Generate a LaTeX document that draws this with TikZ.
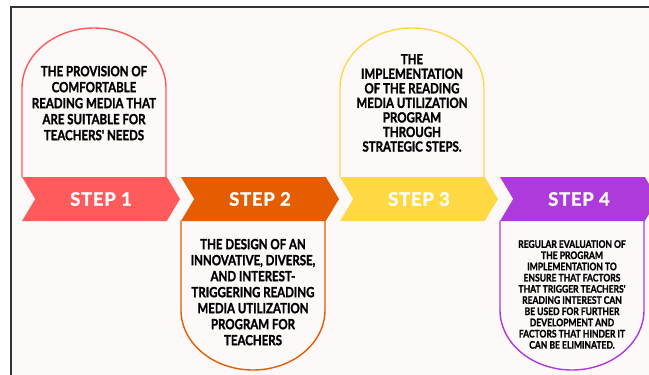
\documentclass[tikz,border=0pt]{standalone}
\usepackage{fontspec}
\usetikzlibrary{shapes.symbols}
\newfontfamily\bodyfont[BoldFeatures={FakeBold=1.6}]{Lato}
\newfontfamily\labelfont[BoldFeatures={FakeBold=1.2}, LetterSpace=4]{Lato}
\definecolor{pagebg}{HTML}{FDF9F8}
\definecolor{stepa}{HTML}{FF5A5C}
\definecolor{stepb}{HTML}{E65C00}
\definecolor{stepc}{HTML}{FFD944}
\definecolor{stepd}{HTML}{AE3ADB}
\newcommand{\narrow}[1]{\scalebox{0.82}[1]{\begin{tabular}{@{}c@{}}#1\end{tabular}}}

\tikzset{
  band/.style={signal, signal from=west, signal to=east, signal pointer angle=118,
    fill=#1, minimum width=158pt, minimum height=44pt, inner sep=0pt,
    font=\labelfont\bfseries\fontsize{18.5}{20}\selectfont, text=white},
  archbox/.style={draw=#1, line width=1.4pt, fill=pagebg},
  bodytext/.style={inner sep=0pt, text=black,
    font=\bodyfont\bfseries\fontsize{14}{16}\selectfont}
}

\begin{document}
\begin{tikzpicture}[x=1pt,y=-1pt]
  \useasboundingbox (0,0) rectangle (649,375);
  \fill[pagebg] (11,7) rectangle (649,375);
  \draw[line width=2pt, black!80] (11,375) -- (11,7) -- (649,7);

  % arches above and below the bands
  \draw[archbox=stepa] (22,177) -- (22,88) arc[start angle=180, end angle=0, x radius=72pt, y radius=60pt] -- (166,177);
  \draw[archbox=stepb] (181,221) -- (181,310) arc[start angle=180, end angle=360, x radius=72pt, y radius=60pt] -- (325,221);
  \draw[archbox=stepc] (340,177) -- (340,88) arc[start angle=180, end angle=0, x radius=72pt, y radius=60pt] -- (484,177);
  \draw[archbox=stepd] (500,221) -- (500,310) arc[start angle=180, end angle=360, x radius=72pt, y radius=60pt] -- (644,221);

  % step bands
  \node[band=stepa] (s1) at (101,199) {STEP 1};
  \node[band=stepb] (s2) at (260,199) {STEP 2};
  \node[band=stepc] (s3) at (419,199) {STEP 3};
  \node[band=stepd] (s4) at (579,199) {STEP 4};

  \node[bodytext] (t1) at (94,105) {\narrow{THE PROVISION OF\\COMFORTABLE\\READING MEDIA THAT\\ARE SUITABLE FOR\\TEACHERS' NEEDS}};
  \node[bodytext] (t2) at (253,294) {\narrow{THE DESIGN OF AN\\INNOVATIVE, DIVERSE,\\AND INTEREST-\\TRIGGERING READING\\MEDIA UTILIZATION\\PROGRAM FOR\\TEACHERS}};
  \node[bodytext, font=\bodyfont\bfseries\fontsize{14}{14.4}\selectfont] (t3) at (412,105) {\narrow{THE\\IMPLEMENTATION\\OF THE READING\\MEDIA UTILIZATION\\PROGRAM\\THROUGH\\STRATEGIC STEPS.}};
  \node[bodytext, font=\bodyfont\bfseries\fontsize{10.4}{11.2}\selectfont] (t4) at (572,296) {\narrow{REGULAR EVALUATION OF\\THE PROGRAM\\IMPLEMENTATION TO\\ENSURE THAT FACTORS\\THAT TRIGGER TEACHERS'\\READING INTEREST CAN\\BE USED FOR FURTHER\\DEVELOPMENT AND\\FACTORS THAT HINDER IT\\CAN BE ELIMINATED.}};
\end{tikzpicture}
\end{document}
